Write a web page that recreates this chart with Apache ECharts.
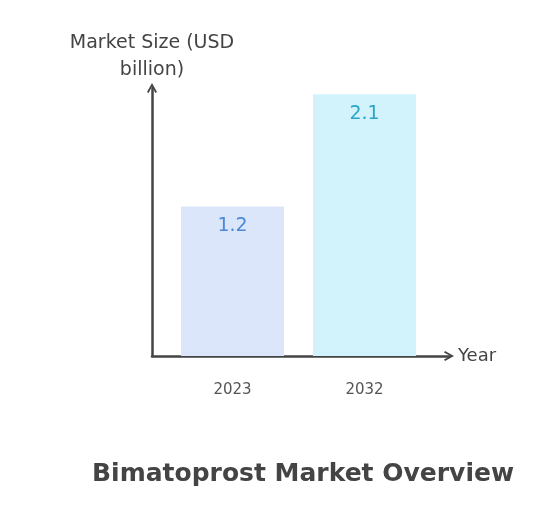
<!DOCTYPE html>
<html>
<head>
<meta charset="utf-8">
<script src="https://cdn.jsdelivr.net/npm/echarts@6/dist/echarts.min.js"></script>
<style>html,body{margin:0;padding:0;background:#fff}#c{width:537px;height:518px}</style>
</head>
<body>
<div id="c"></div>
<script>
const years = ['2023', '2032'];
const marketSize = [1.2, 2.1];
const barColors = ['#dce6fb', '#d2f3fc'];
const labelColors = ['#4a88d8', '#2aa5c9'];
const titleText = 'Bimatoprost Market Overview';
const yName = 'Market Size (USD\nbillion)';
const xName = 'Year';

const FONT = 'DejaVu Sans';
const chevron = 'path://M0,9 L5,0 L10,9 L8.4,10 L5,3.6 L1.6,10 Z';
const chart = echarts.init(document.getElementById('c'), null, {renderer: 'canvas'});
const yMax = 2.15;
chart.setOption({
  animation: false,
  backgroundColor: '#ffffff',
  title: {
    text: titleText, left: 298, top: 457, textAlign: 'center',
    textStyle: {fontFamily: FONT, fontWeight: 'bold', fontSize: 25, color: '#444'}
  },
  grid: [
    {left: 152, top: 88, width: 297, height: 268},
    {left: 166.5, top: 88, width: 264, height: 268}
  ],
  xAxis: [
    {gridIndex: 0, type: 'value', min: 0, max: 1,
     axisLine: {show: true, symbol: ['none', chevron], symbolSize: [16, 10], lineStyle: {color: '#444', width: 2.5}},
     axisTick: {show: false}, axisLabel: {show: false}, splitLine: {show: false},
     name: xName, nameLocation: 'end', nameGap: 9,
     nameTextStyle: {fontFamily: FONT, fontSize: 18, color: '#444', verticalAlign: 'middle'}},
    {gridIndex: 1, type: 'category', data: years,
     axisLine: {show: false}, axisTick: {show: false},
     axisLabel: {margin: 27, fontFamily: FONT, fontSize: 15, color: '#555'}}
  ],
  yAxis: [
    {gridIndex: 0, type: 'value', min: 0, max: yMax,
     axisLine: {show: true, symbol: ['none', chevron], symbolSize: [16, 10], lineStyle: {color: '#444', width: 2.5}},
     axisTick: {show: false}, axisLabel: {show: false}, splitLine: {show: false},
     name: yName, nameLocation: 'end', nameGap: 4,
     nameTextStyle: {fontFamily: FONT, fontSize: 19, color: '#444', align: 'center', lineHeight: 27}},
    {gridIndex: 1, type: 'value', min: 0, max: yMax, show: false}
  ],
  series: [{
    type: 'bar', xAxisIndex: 1, yAxisIndex: 1, barWidth: 103,
    data: marketSize.map((v, i) => ({
      value: v,
      itemStyle: {color: barColors[i]},
      label: {color: labelColors[i]}
    })),
    label: {show: true, position: 'insideTop', distance: 10, fontFamily: FONT, fontSize: 19}
  }]
});
</script>
</body>
</html>
